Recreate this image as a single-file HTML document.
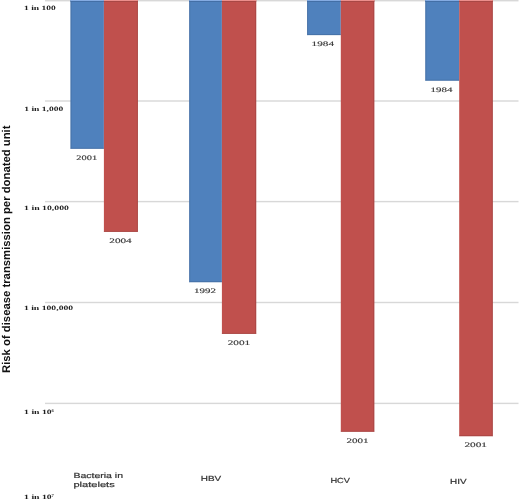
<!DOCTYPE html>
<html><head><meta charset="utf-8"><style>
html,body{margin:0;padding:0;background:#fff;width:520px;height:500px;overflow:hidden}
svg{display:block}
text{filter:grayscale(1);text-rendering:geometricPrecision}
.tk{font-family:"Liberation Serif",serif;font-weight:bold;font-size:6.6px;fill:#1e1e1e}
.bl{font-family:"Liberation Serif",serif;font-size:6.9px;fill:#333;stroke:#444;stroke-width:0.15px}
.cat{font-family:"Liberation Sans",sans-serif;font-size:7.4px;fill:#333;stroke:#333;stroke-width:0.2px}
.ttl{font-family:"Liberation Sans",sans-serif;font-weight:bold;font-size:11.25px;fill:#111}
</style></head><body>
<svg width="520" height="500" viewBox="0 0 520 500">
<rect width="520" height="500" fill="#fff"/>
<g fill="#d8d8d8">
<rect x="45" y="0.0" width="473.5" height="1.4"/>
<rect x="45" y="100.3" width="473.5" height="1.4"/>
<rect x="45" y="200.9" width="473.5" height="1.4"/>
<rect x="45" y="301.8" width="473.5" height="1.4"/>
<rect x="45" y="402.7" width="473.5" height="1.4"/>
</g>
<g fill="#4f81bd">
<rect x="70.5" y="0" width="33.4" height="148.8"/>
<rect x="189.2" y="0" width="32.7" height="282.2"/>
<rect x="307.1" y="0" width="33.7" height="35.1"/>
<rect x="425.3" y="0" width="33.9" height="80.7"/>
</g>
<g fill="#c0504d">
<rect x="103.9" y="0" width="34.0" height="231.9"/>
<rect x="221.9" y="0" width="34.3" height="333.9"/>
<rect x="340.8" y="0" width="33.5" height="431.8"/>
<rect x="459.2" y="0" width="33.6" height="436.2"/>
</g>
<g fill="#3b5f8e" opacity="0.45">
<rect x="70.5" y="0" width="1" height="148.8"/>
<rect x="70.5" y="147.8" width="33.4" height="1"/>
<rect x="189.2" y="0" width="1" height="282.2"/>
<rect x="189.2" y="281.2" width="32.7" height="1"/>
<rect x="307.1" y="0" width="1" height="35.1"/>
<rect x="307.1" y="34.1" width="33.7" height="1"/>
<rect x="425.3" y="0" width="1" height="80.7"/>
<rect x="425.3" y="79.7" width="33.9" height="1"/>
</g>
<g fill="#8f3a38" opacity="0.45">
<rect x="136.9" y="0" width="1" height="231.9"/>
<rect x="103.9" y="230.9" width="34.0" height="1"/>
<rect x="255.2" y="0" width="1" height="333.9"/>
<rect x="221.9" y="332.9" width="34.3" height="1"/>
<rect x="373.3" y="0" width="1" height="431.8"/>
<rect x="340.8" y="430.8" width="33.5" height="1"/>
<rect x="491.8" y="0" width="1" height="436.2"/>
<rect x="459.2" y="435.2" width="33.6" height="1"/>
</g>
<g>
<rect x="70.5" y="0" width="33.4" height="1" fill="#84abe2"/>
<rect x="70.5" y="1" width="33.4" height="1" fill="#436fa6"/>
<rect x="103.9" y="0" width="34.0" height="1" fill="#ec8f8c"/>
<rect x="103.9" y="1" width="34.0" height="1" fill="#a84845"/>
<rect x="189.2" y="0" width="32.7" height="1" fill="#84abe2"/>
<rect x="189.2" y="1" width="32.7" height="1" fill="#436fa6"/>
<rect x="221.9" y="0" width="34.3" height="1" fill="#ec8f8c"/>
<rect x="221.9" y="1" width="34.3" height="1" fill="#a84845"/>
<rect x="307.1" y="0" width="33.7" height="1" fill="#84abe2"/>
<rect x="307.1" y="1" width="33.7" height="1" fill="#436fa6"/>
<rect x="340.8" y="0" width="33.5" height="1" fill="#ec8f8c"/>
<rect x="340.8" y="1" width="33.5" height="1" fill="#a84845"/>
<rect x="425.3" y="0" width="33.9" height="1" fill="#84abe2"/>
<rect x="425.3" y="1" width="33.9" height="1" fill="#436fa6"/>
<rect x="459.2" y="0" width="33.6" height="1" fill="#ec8f8c"/>
<rect x="459.2" y="1" width="33.6" height="1" fill="#a84845"/>
</g>
<text class="tk" x="24" y="10" textLength="31.8" lengthAdjust="spacingAndGlyphs">1 in 100</text>
<text class="tk" x="24.3" y="110.8" textLength="39" lengthAdjust="spacingAndGlyphs">1 in 1,000</text>
<text class="tk" x="24.1" y="210" textLength="44.9" lengthAdjust="spacingAndGlyphs">1 in 10,000</text>
<text class="tk" x="23.9" y="310.2" textLength="49.3" lengthAdjust="spacingAndGlyphs">1 in 100,000</text>
<text class="tk" x="24.1" y="413.8" textLength="27.6" lengthAdjust="spacingAndGlyphs">1 in 10</text>
<text class="tk" x="51.6" y="411.5" style="font-size:4.6px;fill:#444">6</text>
<text class="tk" x="24.1" y="498.9" textLength="27.6" lengthAdjust="spacingAndGlyphs">1 in 10</text>
<text class="tk" x="51.6" y="496.59999999999997" style="font-size:4.6px;fill:#444">7</text>
<text class="bl" x="76.3" y="160.0" textLength="20.8" lengthAdjust="spacingAndGlyphs">2001</text>
<text class="bl" x="109.3" y="242.7" textLength="22.4" lengthAdjust="spacingAndGlyphs">2004</text>
<text class="bl" x="194.1" y="292.7" textLength="22.0" lengthAdjust="spacingAndGlyphs">1992</text>
<text class="bl" x="227.7" y="344.5" textLength="22.5" lengthAdjust="spacingAndGlyphs">2001</text>
<text class="bl" x="311.6" y="46.4" textLength="22.4" lengthAdjust="spacingAndGlyphs">1984</text>
<text class="bl" x="346.4" y="443.1" textLength="22.1" lengthAdjust="spacingAndGlyphs">2001</text>
<text class="bl" x="430.5" y="91.5" textLength="21.9" lengthAdjust="spacingAndGlyphs">1984</text>
<text class="bl" x="464.4" y="447.0" textLength="22.6" lengthAdjust="spacingAndGlyphs">2001</text>
<text class="cat" x="73.4" y="477.5" textLength="49.6" lengthAdjust="spacingAndGlyphs">Bacteria in</text>
<text class="cat" x="73.4" y="487.3" textLength="41.3" lengthAdjust="spacingAndGlyphs">platelets</text>
<text class="cat" x="200.8" y="480.9" textLength="20.4" lengthAdjust="spacingAndGlyphs">HBV</text>
<text class="cat" x="330.4" y="482.7" textLength="19.6" lengthAdjust="spacingAndGlyphs">HCV</text>
<text class="cat" x="450" y="484.2" textLength="16.5" lengthAdjust="spacingAndGlyphs">HIV</text>
<text class="ttl" transform="translate(10.2,373) rotate(-90)" textLength="247.5" lengthAdjust="spacingAndGlyphs">Risk of disease transmission per donated unit</text>
</svg>
</body></html>
